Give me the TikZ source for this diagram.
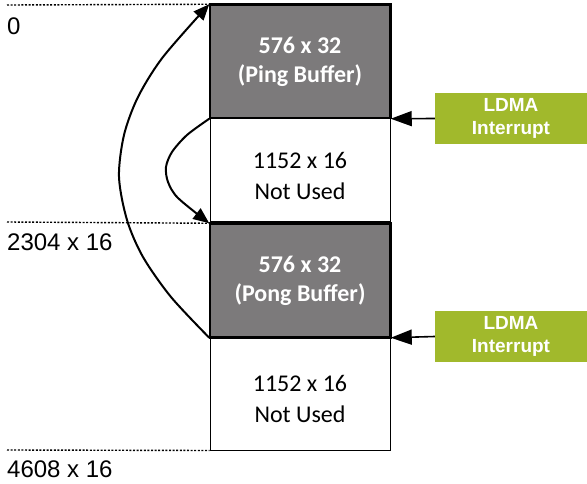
\documentclass[tikz,border=0pt]{standalone}
\usepackage{fontspec}
\setmainfont{Liberation Sans}
\newfontfamily\calib{Carlito}
\usetikzlibrary{arrows.meta}
\definecolor{blkgray}{RGB}{124,122,123}
\definecolor{ldmagreen}{RGB}{161,185,44}
\tikzset{
  mem/.style={draw=black, line width=1.5pt, minimum width=180pt, inner sep=0pt, align=center,
     font=\calib\fontsize{24}{28}\selectfont},
  buf/.style={mem, fill=blkgray, text=white, font=\calib\bfseries\fontsize{24}{28}\selectfont},
  unused/.style={mem, fill=white, line width=1pt},
  memtxt/.style={align=center, inner sep=0pt, font=\calib\fontsize{24}{28}\selectfont},
  ldma/.style={fill=ldmagreen, text=white, minimum width=152pt, minimum height=51pt, inner sep=0pt,
     align=center, font=\bfseries\fontsize{19}{23}\selectfont},
  addr/.style={anchor=base west, font=\fontsize{24}{28}\selectfont, inner sep=0pt},
  dots/.style={line width=1.4pt, dash pattern=on 2pt off 1.6pt},
  arr/.style={-{Triangle[length=16pt,width=13pt]}, line width=2pt},
  irqarr/.style={-{Triangle[length=21pt,width=15pt]}, line width=1.6pt},
}
\begin{document}
\begin{tikzpicture}[x=1pt,y=-1pt]
\useasboundingbox (0,0) rectangle (587,484);
\node[buf, minimum height=113pt] (ping) at (300,61.5) {576 x 32\\[1pt](Ping Buffer)};
\node[unused, minimum height=104pt] (un1) at (300,170) {};
\node[buf, minimum height=113pt] (pong) at (300,280.5) {576 x 32\\[1pt](Pong Buffer)};
\node[unused, minimum height=113pt] (un2) at (300,393.5) {};
\node[memtxt] (t1) at ([yshift=-6pt]un1.center) {1152 x 16\\[3pt]Not Used};
\node[memtxt] (t2) at ([yshift=-5pt]un2.center) {1152 x 16\\[3pt]Not Used};
\draw[line width=1.5pt] (ping.north west) rectangle (ping.south east);
\draw[line width=1.5pt] (pong.north west) rectangle (pong.south east);

\node[ldma] (g1) at (511,118.5) {LDMA\\Interrupt};
\node[ldma] (g2) at (511,336.5) {LDMA\\Interrupt};
\draw[irqarr] (g1.west) -- (ping.south east);
\draw[irqarr] (g2.west) -- (pong.south east);

\coordinate (d0) at (7,5);
\coordinate (d1) at (7,222);
\coordinate (d2) at (7,450);
\draw[dots] (d0) -- (ping.north west);
\draw[dots] (d1) -- (pong.north west);
\draw[dots] (d2) -- (un2.south west);

\node[addr] (a0) at (7,35) {0};
\node[addr] (a1) at (7,250.5) {2304 x 16};
\node[addr] (a2) at (7,477) {4608 x 16};

\draw[arr] plot[smooth, tension=0.5] coordinates {(pong.south west) (171,297) (143,257) (127,220) (119,177) (124,135) (138,97) (163,57) (ping.north west)};
\draw[arr] plot[smooth, tension=0.5] coordinates {(ping.south west) (187,135) (172,152) (166,167) (168,182) (178,198) (pong.north west)};
\end{tikzpicture}
\end{document}
